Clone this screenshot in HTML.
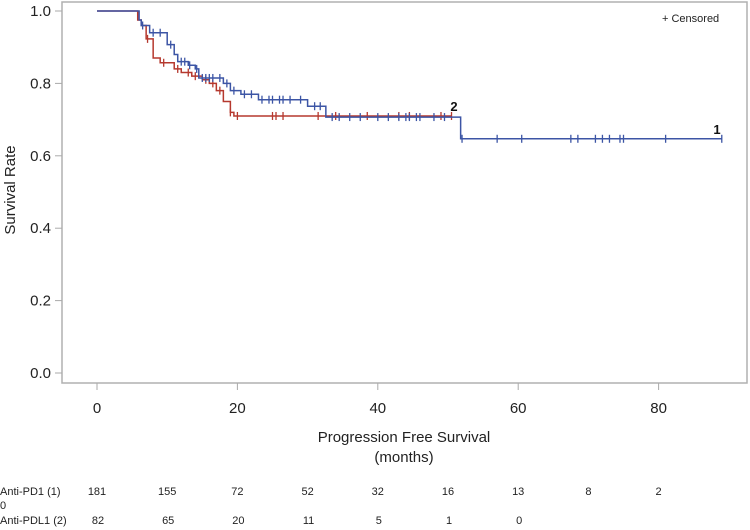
<!DOCTYPE html>
<html><head><meta charset="utf-8"><style>
body{margin:0;background:#fff;width:750px;height:530px;overflow:hidden;font-family:"Liberation Sans",sans-serif}
svg{display:block}
</style></head><body>
<svg id="chart" width="750" height="530">
<rect x="62" y="2" width="685" height="381" fill="none" stroke="#b0b0b0" stroke-width="1.5"/>
<g id="axes"></g>
<g id="series"></g>
<text x="662" y="22" font-size="11" fill="#222" font-family="Liberation Sans, sans-serif">+ Censored</text>
<text x="15" y="190" font-size="15" fill="#222" transform="rotate(-90 15 190)" text-anchor="middle">Survival Rate</text>
<text x="404" y="442" font-size="15" fill="#222" text-anchor="middle">Progression Free Survival</text>
<text x="404" y="462" font-size="15" fill="#222" text-anchor="middle">(months)</text>
<g id="risk" font-size="11" fill="#222"></g>
</svg>
<script>
const xTicks=[0,20,40,60,80];
const yTicks=[0,0.2,0.4,0.6,0.8,1.0];
const pd1Times=[0,6,6.3,7.5,10,11,11.5,13,14,14.5,18,19,20.5,23,30,32.6,51.8,89];
const pd1Surv=[1,0.975,0.96,0.94,0.907,0.88,0.86,0.85,0.84,0.815,0.80,0.78,0.77,0.755,0.737,0.707,0.647,0.647];
const pdl1Times=[0,5.8,6.3,7,8,9,11,12,13.5,15,16,17,18,19,19.5,50.5];
const pdl1Surv=[1,0.975,0.96,0.923,0.87,0.857,0.84,0.83,0.82,0.81,0.80,0.78,0.75,0.72,0.71,0.71];
const pd1Cens=[6.5,8,9,10.5,12,12.5,13.2,14.2,15,15.5,16,16.5,17.5,18.5,19.5,21,22,23.5,24.5,25,26,26.5,27.5,29,31,31.8,33.5,34.5,36,37.5,40,41.5,43,44,44.5,45.5,46,48,49.5,52,57,60.5,67.5,68.5,71,72,73,74.5,75,81,89];
const pdl1Cens=[7.2,9.5,11.5,13,14,15.5,16.5,17.5,19,20,25,25.5,26.5,31.5,34,38.5,43,44.5,49,50.5];
const riskTimes=[0,10,20,30,40,50,60,70,80];
const pd1Risk=[181,155,72,52,32,16,13,8,2];
const pdl1Risk=[82,65,20,11,5,1,0];
const NS='http://www.w3.org/2000/svg';
const X=t=>97+t*7.02, Y=s=>373-s*362;
function mk(tag,at,par){const e=document.createElementNS(NS,tag);for(const k in at)e.setAttribute(k,at[k]);par.appendChild(e);return e;}
const ax=document.getElementById('axes');
xTicks.forEach(t=>{
 const l=mk('line',{x1:X(t),x2:X(t),y1:383,y2:390,stroke:'#aaa'},ax);
 
 
 const tx=mk('text',{x:X(t),y:413,'font-size':15,'text-anchor':'middle',fill:'#222'},ax);
 tx.textContent=t;
 
 
});
yTicks.forEach(v=>{
 const l=mk('line',{x1:55,x2:62,y1:Y(v),y2:Y(v),stroke:'#aaa'},ax);
 
 
 const tx=mk('text',{x:51,y:Y(v)+5,'font-size':15,'text-anchor':'end',fill:'#222'},ax);
 tx.textContent=v.toFixed(1);
 
 
});
function survAt(ts,ss,t){let s=ss[0];for(let i=0;i<ts.length;i++){if(ts[i]<=t)s=ss[i];}return s;}
const sg=document.getElementById('series');
function drawSeries(ts,ss,cens,color,name){
 let d='M'+X(ts[0])+','+Y(ss[0]);
 for(let i=1;i<ts.length;i++){d+=' H'+X(ts[i])+' V'+Y(ss[i]);}
 const p=mk('path',{d:d,fill:'none',stroke:color,'stroke-width':1.5},sg);
 
 
 cens.forEach(t=>{
  const y=Y(survAt(ts,ss,t));
  const c=mk('line',{x1:X(t),x2:X(t),y1:y-4,y2:y+4,stroke:color,'stroke-width':1.3},sg);
  
  
 });
}
drawSeries(pdl1Times,pdl1Surv,pdl1Cens,'#b5382e','anti-pdl1');
drawSeries(pd1Times,pd1Surv,pd1Cens,'#3c55a5','anti-pd1');
const l2=mk('text',{x:454,y:111,'font-size':13,'font-weight':'bold','text-anchor':'middle',fill:'#111'},sg);
l2.textContent='2';


const l1=mk('text',{x:717,y:134,'font-size':13,'font-weight':'bold','text-anchor':'middle',fill:'#111'},sg);
l1.textContent='1';


const rk=document.getElementById('risk');
function lab(txt,x,y,anchor,name){const t=mk('text',{x:x,y:y,'text-anchor':anchor},rk);t.textContent=txt;
 
 }
lab('Anti-PD1 (1)',0,495,'start','risk-row-label-pd1');
lab('0',0,509,'start','risk-overflow-zero');
lab('Anti-PDL1 (2)',0,524,'start','risk-row-label-pdl1');
pd1Risk.forEach((v,i)=>lab(v,X(riskTimes[i]),495,'middle','risk-count-pd1'));
pdl1Risk.forEach((v,i)=>lab(v,X(riskTimes[i])+1,524,'middle','risk-count-pdl1'));
</script>
</body></html>
